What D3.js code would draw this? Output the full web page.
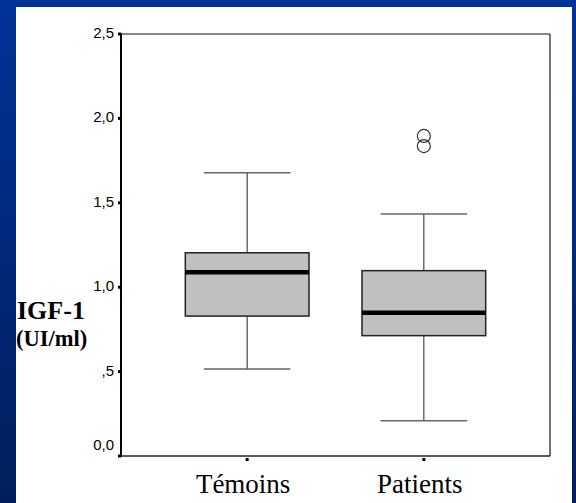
<!DOCTYPE html>
<html>
<head>
<meta charset="utf-8">
<script src="https://cdn.jsdelivr.net/npm/d3@7"></script>
<style>
  html, body { margin: 0; padding: 0; background: #002a80; }
  svg { display: block; }
</style>
</head>
<body>
<svg id="chart" width="576" height="503"></svg>
<script>
// IGF-1 levels (UI/ml) by group
const categories = ["Témoins", "Patients"];
const whiskerLow = [0.515, 0.209];
const q1 = [0.829, 0.713];
const median = [1.088, 0.849];
const q3 = [1.204, 1.098];
const whiskerHigh = [1.678, 1.434];
const outliers = [[], [1.896, 1.836]];
const yTicks = [0, 0.5, 1.0, 1.5, 2.0, 2.5];
const yTickLabels = ["0,0", ",5", "1,0", "1,5", "2,0", "2,5"];

const svg = d3.select("#chart");
const W = 576, H = 503;

// slide background: blue gradient with a white content panel
const defs = svg.append("defs");
const grad = defs.append("linearGradient")
  .attr("id", "bg").attr("x1", 0).attr("y1", 0).attr("x2", 0).attr("y2", 1);
grad.append("stop").attr("offset", "0%").attr("stop-color", "#003399");
grad.append("stop").attr("offset", "100%").attr("stop-color", "#001f5c");
svg.append("rect").attr("width", W).attr("height", H).attr("fill", "url(#bg)");
svg.append("rect").attr("x", 16).attr("y", 7).attr("width", 556).attr("height", H - 7).attr("fill", "#ffffff");

const plot = { left: 121, right: 550, top: 34, bottom: 456 };

const y = d3.scaleLinear().domain([0, 2.5]).range([plot.bottom, plot.top]);
const x = d3.scalePoint().domain(categories).range([plot.left, plot.right]).padding(0.714);
const step = x.step();
const boxW = step * 0.7;
const capW = step * 0.49;

// plot frame
const g = svg.append("g");
g.append("line").attr("x1", plot.left).attr("x2", plot.right).attr("y1", plot.top).attr("y2", plot.top)
  .attr("stroke", "#888").attr("stroke-width", 2);
g.append("line").attr("x1", plot.right).attr("x2", plot.right).attr("y1", plot.top).attr("y2", plot.bottom)
  .attr("stroke", "#444").attr("stroke-width", 1.5);
g.append("line").attr("x1", plot.left).attr("x2", plot.right).attr("y1", plot.bottom).attr("y2", plot.bottom)
  .attr("stroke", "#222").attr("stroke-width", 1.5);
g.append("line").attr("x1", plot.left).attr("x2", plot.left).attr("y1", plot.top - 1).attr("y2", plot.bottom + 1)
  .attr("stroke", "#000").attr("stroke-width", 2);

// y axis: square tick marks and labels
yTicks.forEach((t, i) => {
  g.append("rect").attr("x", plot.left - 3).attr("y", y(t) - 1.5).attr("width", 3).attr("height", 3).attr("fill", "#000");
  g.append("text")
    .attr("x", plot.left - 7)
    .attr("y", y(t) + (i === 0 ? -10 : 0))
    .attr("text-anchor", "end")
    .attr("dominant-baseline", "middle")
    .attr("font-family", "'Liberation Sans', Arial, sans-serif")
    .attr("font-size", 15)
    .attr("fill", "#000")
    .text(yTickLabels[i]);
});

// x axis: square tick marks and category names
categories.forEach(c => {
  g.append("rect").attr("x", x(c) - 1.5).attr("y", plot.bottom + 2).attr("width", 3).attr("height", 3).attr("fill", "#000");
  g.append("text")
    .attr("x", x(c) - 4)
    .attr("y", 493)
    .attr("text-anchor", "middle")
    .attr("font-family", "'Liberation Serif', 'Times New Roman', serif")
    .attr("font-size", 27)
    .attr("fill", "#000")
    .text(c);
});

// y axis title
g.append("text").attr("x", 17).attr("y", 319)
  .attr("font-family", "'Liberation Serif', 'Times New Roman', serif")
  .attr("font-size", 26).attr("font-weight", "bold").attr("fill", "#000")
  .text("IGF-1");
g.append("text").attr("x", 16).attr("y", 346)
  .attr("font-family", "'Liberation Serif', 'Times New Roman', serif")
  .attr("font-size", 22.5).attr("font-weight", "bold").attr("fill", "#000")
  .text("(UI/ml)");

// boxes
categories.forEach((c, i) => {
  const cx = x(c);
  // whiskers
  g.append("line").attr("x1", cx).attr("x2", cx).attr("y1", y(whiskerHigh[i])).attr("y2", y(q3[i]))
    .attr("stroke", "#222").attr("stroke-width", 1);
  g.append("line").attr("x1", cx).attr("x2", cx).attr("y1", y(q1[i])).attr("y2", y(whiskerLow[i]))
    .attr("stroke", "#222").attr("stroke-width", 1);
  g.append("line").attr("x1", cx - capW / 2).attr("x2", cx + capW / 2).attr("y1", y(whiskerHigh[i])).attr("y2", y(whiskerHigh[i]))
    .attr("stroke", "#666").attr("stroke-width", 1.5);
  g.append("line").attr("x1", cx - capW / 2).attr("x2", cx + capW / 2).attr("y1", y(whiskerLow[i])).attr("y2", y(whiskerLow[i]))
    .attr("stroke", "#666").attr("stroke-width", 1.5);
  // interquartile box
  g.append("rect").attr("x", cx - boxW / 2).attr("y", y(q3[i]))
    .attr("width", boxW).attr("height", y(q1[i]) - y(q3[i]))
    .attr("fill", "#c0c0c0").attr("stroke", "#222").attr("stroke-width", 1.5);
  // median
  g.append("line").attr("x1", cx - boxW / 2).attr("x2", cx + boxW / 2).attr("y1", y(median[i])).attr("y2", y(median[i]))
    .attr("stroke", "#000").attr("stroke-width", 4.5);
  // outliers
  outliers[i].forEach(v => {
    g.append("circle").attr("cx", cx).attr("cy", y(v)).attr("r", 6.5)
      .attr("fill", "none").attr("stroke", "#333").attr("stroke-width", 1.2);
  });
});
</script>
</body>
</html>
